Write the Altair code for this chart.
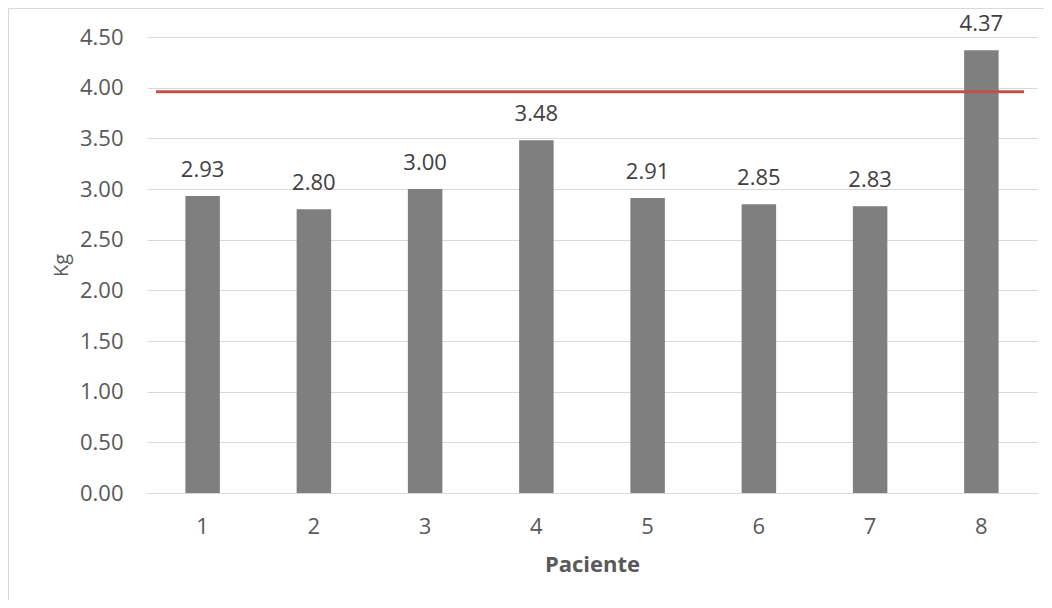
import altair as alt
import pandas as pd

pacientes = ["1", "2", "3", "4", "5", "6", "7", "8"]
kg = [2.93, 2.80, 3.00, 3.48, 2.91, 2.85, 2.83, 4.37]
limite = [3.96]

df = pd.DataFrame({"Paciente": pacientes, "Kg": kg})
df_lim = pd.DataFrame({"lim": limite})
df_box = pd.DataFrame({"b": [0]})

FONT = "Open Sans"
FS = 22
W, H = 890, 456

x_enc = alt.X("Paciente:O", sort=pacientes,
              scale=alt.Scale(paddingInner=0.69, paddingOuter=0.345),
              axis=alt.Axis(title="Paciente", labelAngle=0, ticks=False,
                            domainColor="#d9d9d9", labelPadding=23,
                            labelFontSize=FS, labelColor="#595959", labelFont=FONT,
                            titleFontSize=FS, titleFont=FONT, titleFontWeight="bold",
                            titleColor="#595959", titleY=78, titleBaseline="alphabetic"))
y_enc = alt.Y("Kg:Q", scale=alt.Scale(domain=[0, 4.5], nice=False),
              axis=alt.Axis(title="Kg", values=[0, 0.5, 1, 1.5, 2, 2.5, 3, 3.5, 4, 4.5],
                            format=".2f", ticks=False, domain=False, grid=True,
                            gridColor="#d9d9d9", gridWidth=1, labelPadding=24,
                            labelFontSize=FS, labelColor="#595959", labelFont=FONT,
                            titleFontSize=20, titleFont=FONT, titleFontWeight="normal",
                            titleColor="#595959", titleX=-80, titleY=228,
                            titleBaseline="alphabetic", titleAlign="center", titleAngle=270))

bars = alt.Chart(df).mark_bar(color="#7f7f7f").encode(x=x_enc, y=y_enc)

labels = alt.Chart(df).mark_text(dy=-19, baseline="alphabetic", fontSize=FS, font=FONT,
                                 color="#404040").encode(
    x=alt.X("Paciente:O", sort=pacientes),
    y=alt.Y("Kg:Q"),
    text=alt.Text("Kg:Q", format=".2f"))

rule = alt.Chart(df_lim).mark_rule(color="#C0504D", strokeWidth=3).encode(
    y=alt.Y("lim:Q"), x=alt.value(9), x2=alt.value(877))

box = alt.Chart(df_box).mark_rect(fill=None, fillOpacity=0, stroke="#d9d9d9", strokeWidth=1).encode(
    x=alt.value(-138.5), x2=alt.value(1000), y=alt.value(-28.5), y2=alt.value(700))

chart = alt.layer(box, bars, labels, rule).properties(
    width=W, height=H,
    autosize=alt.AutoSizeParams(type="none"),
    padding={"left": 139, "top": 29, "right": 7, "bottom": 107},
).configure_view(stroke=None)

chart.save("out.html", embed_options={"renderer": "svg", "actions": False})
